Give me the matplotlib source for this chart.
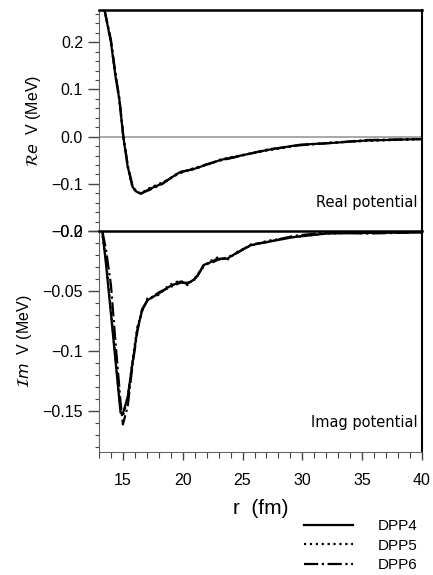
import matplotlib
matplotlib.use("Agg")
import matplotlib.pyplot as plt
from matplotlib.ticker import MultipleLocator, FixedLocator, FixedFormatter

# real part (MeV) vs r (fm)
r_re = [13.45, 14.0, 14.4, 14.7, 15.03, 15.4, 15.8, 16.1, 16.5, 17.2, 18.3, 19.7, 21.1, 21.9, 23.2, 24.3, 27.1, 29.8, 32.6, 35.4, 40.0]
re_dpp4 = [0.27, 0.20, 0.125, 0.079, 0.0, -0.063, -0.106, -0.116, -0.121, -0.111, -0.099, -0.076, -0.067, -0.060, -0.049, -0.043, -0.028, -0.017, -0.013, -0.008, -0.005]
re_dpp5 = [0.27, 0.20, 0.124, 0.078, 0.0, -0.064, -0.107, -0.117, -0.120, -0.109, -0.097, -0.078, -0.065, -0.061, -0.048, -0.042, -0.029, -0.018, -0.012, -0.009, -0.005]
re_dpp6 = [0.27, 0.205, 0.13, 0.082, 0.003, -0.060, -0.104, -0.115, -0.120, -0.113, -0.100, -0.075, -0.068, -0.059, -0.050, -0.044, -0.027, -0.018, -0.013, -0.007, -0.005]

# imaginary part
r_im = [13.3, 13.58, 14.0, 14.4, 14.8, 15.0, 15.4, 15.8, 16.2, 16.6, 17.05, 18.0, 18.85, 19.8, 20.4, 21.1, 21.8, 22.3, 22.9, 23.7, 24.6, 25.7, 27.1, 29.25, 32.0, 35.4, 40.0]
im_dpp4 = [-0.002, -0.027, -0.069, -0.110, -0.151, -0.152, -0.138, -0.110, -0.0825, -0.066, -0.0575, -0.052, -0.0464, -0.042, -0.044, -0.039, -0.028, -0.026, -0.023, -0.023, -0.0175, -0.0117, -0.009, -0.005, -0.002, -0.0015, -0.001]
im_dpp5 = [-0.004, -0.024, -0.066, -0.108, -0.150, -0.154, -0.140, -0.108, -0.080, -0.067, -0.056, -0.053, -0.045, -0.041, -0.045, -0.038, -0.029, -0.025, -0.022, -0.024, -0.017, -0.012, -0.008, -0.005, -0.002, -0.001, -0.001]
im_dpp6 = [-0.001, -0.015, -0.045, -0.095, -0.142, -0.161, -0.146, -0.112, -0.084, -0.065, -0.058, -0.051, -0.047, -0.043, -0.043, -0.040, -0.027, -0.027, -0.024, -0.022, -0.018, -0.011, -0.009, -0.004, -0.001, -0.002, -0.001]

names = ["DPP4", "DPP5", "DPP6"]
styles = ["-", ":", "-."]

plt.rcParams['font.family'] = ['Liberation Sans', 'DejaVu Sans']

fig = plt.figure(figsize=(4.33, 5.75), dpi=100)
ax1 = fig.add_axes([0.2286, 0.598, 0.746, 0.3844])
ax2 = fig.add_axes([0.2286, 0.2139, 0.746, 0.3841])

for ys, ls, nm in zip([re_dpp4, re_dpp5, re_dpp6], styles, names):
    ax1.plot(r_re, ys, color='black', ls=ls, lw=1.6, label=nm)
for ys, ls in zip([im_dpp4, im_dpp5, im_dpp6], styles):
    ax2.plot(r_im, ys, color='black', ls=ls, lw=1.6)

ax1.axhline(0, color='#999999', lw=1.2, zorder=0)

ax1.set_xlim(13, 40)
ax2.set_xlim(13, 40)
ax1.set_ylim(-0.2, 0.268)
ax2.set_ylim(-0.184, 0.0)

ax1.yaxis.set_major_locator(FixedLocator([-0.2, -0.1, 0.0, 0.1, 0.2]))
ax1.yaxis.set_major_formatter(FixedFormatter(['\u22120.2', '\u22120.1', '0.0', '0.1', '0.2']))
ax1.yaxis.set_minor_locator(MultipleLocator(0.02))
ax2.yaxis.set_major_locator(FixedLocator([-0.15, -0.1, -0.05, 0.0]))
ax2.yaxis.set_major_formatter(FixedFormatter(['\u22120.15', '\u22120.1', '\u22120.05', '\u22120.0']))
ax2.yaxis.set_minor_locator(MultipleLocator(0.01))
ax2.xaxis.set_major_locator(MultipleLocator(5))
ax2.xaxis.set_minor_locator(MultipleLocator(1))
ax1.set_xticks([])

for ax in (ax1, ax2):
    ax.tick_params(which='major', direction='out', length=8, width=1, labelsize=11.5, color='#444444')
    ax.tick_params(which='minor', direction='out', length=3, width=0.8, color='#444444')
    ax.spines['left'].set_color('#666666')
    ax.spines['right'].set_linewidth(1.5)
    ax.spines['top'].set_linewidth(1.8)
ax1.spines['bottom'].set_visible(False)
ax2.spines['bottom'].set_color('#666666')
ax2.tick_params(axis='x', which='major', length=6, pad=9)
ax2.tick_params(axis='x', which='minor', length=4)

ax1.set_ylabel(r'$\mathcal{R}e$  V (MeV)', fontsize=11.5, labelpad=6)
ax2.set_ylabel(r'$\mathcal{I}m$  V (MeV)', fontsize=11.5, labelpad=6)
ax2.set_xlabel('r  (fm)', fontsize=15, labelpad=8)

ax1.text(0.985, 0.13, 'Real potential', transform=ax1.transAxes, ha='right', va='center', fontsize=10.5, family='DejaVu Sans')
ax2.text(0.985, 0.135, 'Imag potential', transform=ax2.transAxes, ha='right', va='center', fontsize=10.5, family='DejaVu Sans')

ax1.legend(loc='upper right', bbox_to_anchor=(0.995, 0.121), bbox_transform=fig.transFigure,
           frameon=False, handlelength=3.2, handletextpad=1.6, labelspacing=0.35, fontsize=11)

fig.savefig('out.png', dpi=100)
